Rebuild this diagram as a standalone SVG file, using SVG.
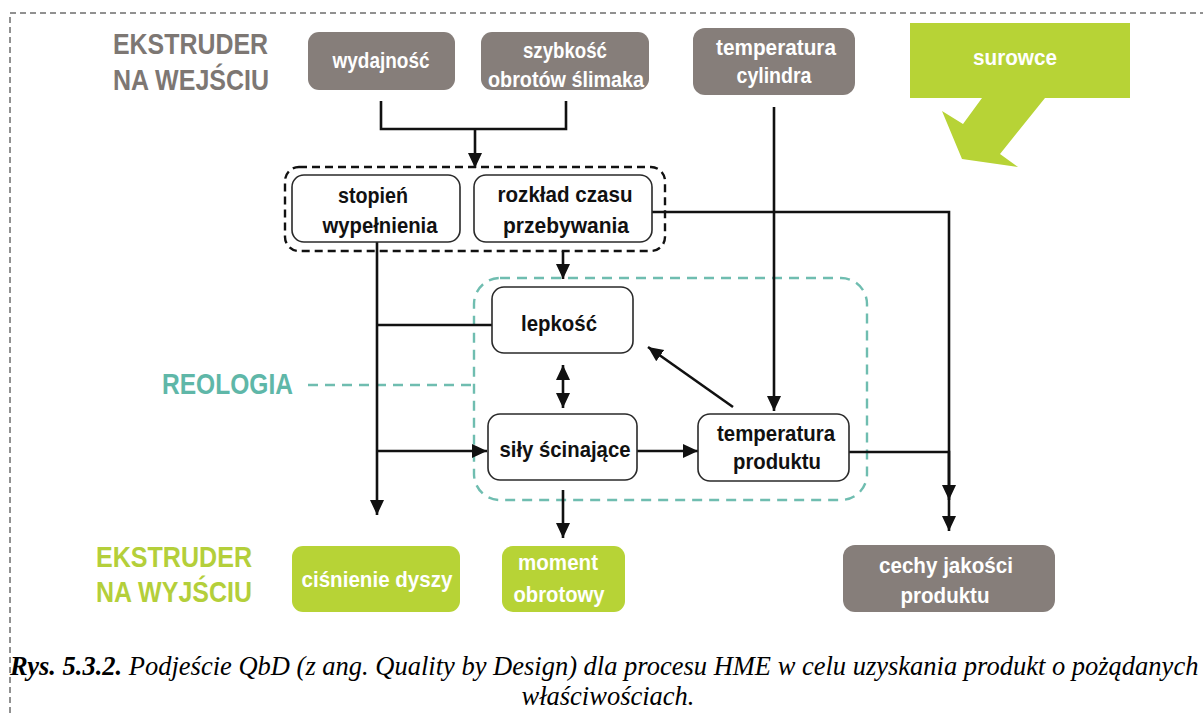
<svg xmlns="http://www.w3.org/2000/svg" width="1203" height="713" viewBox="0 0 1203 713">
  <style>
    .frame { fill: none; stroke: #222; stroke-width: 1; stroke-dasharray: 6 4; }
    .gray { fill: #867e7a; }
    .green { fill: #b7d336; }
    .white-box { fill: #fff; stroke: #2a2a2a; stroke-width: 1.6; }
    .lbl { font-family: "Liberation Sans", Arial, sans-serif; font-weight: bold; font-size: 22px; text-anchor: middle; }
    .on-dark { fill: #fff; }
    .on-light { fill: #111; }
    .head { font-family: "Liberation Sans", Arial, sans-serif; font-weight: bold; font-size: 30px; }
    .head-gray { fill: #7d7773; }
    .head-green { fill: #b4cf3a; }
    .head-teal { fill: #5fb7a8; }
    .wire { fill: none; stroke: #111; stroke-width: 2.6; }
    .cap { font-family: "Liberation Serif", "Times New Roman", serif; font-style: italic; font-size: 26.5px; fill: #000; }
  </style>
  <defs>
    <marker id="arr" markerUnits="userSpaceOnUse" markerWidth="16" markerHeight="16" refX="15" refY="7" orient="auto-start-reverse" viewBox="0 0 16 14">
      <path d="M0,0 L15,7 L0,14 z" fill="#111"/>
    </marker>
  </defs>

  <rect width="1203" height="713" fill="#fff"/>

  <!-- page frame -->
  <path class="frame" d="M10,713 V13 H1203"/>

  <!-- section headings -->
  <g id="head-input">
    <text class="head head-gray" x="113" y="54" textLength="155" lengthAdjust="spacingAndGlyphs">EKSTRUDER</text>
    <text class="head head-gray" x="113" y="90" textLength="156" lengthAdjust="spacingAndGlyphs">NA WEJŚCIU</text>
  </g>
  <g id="head-output">
    <text class="head head-green" x="96" y="567" textLength="156" lengthAdjust="spacingAndGlyphs">EKSTRUDER</text>
    <text class="head head-green" x="96" y="602" textLength="156" lengthAdjust="spacingAndGlyphs">NA WYJŚCIU</text>
  </g>
  <g id="head-rheology">
    <text class="head head-teal" x="162" y="394" textLength="131" lengthAdjust="spacingAndGlyphs">REOLOGIA</text>
  </g>

  <!-- group outlines -->
  <rect id="group-filling" x="285" y="167" width="380" height="84" rx="14" fill="none" stroke="#111" stroke-width="2.4" stroke-dasharray="8 5"/>
  <g id="group-rheology" fill="none" stroke="#6fbdb0" stroke-width="2.4" stroke-dasharray="10 7">
    <rect x="474" y="278" width="393" height="222" rx="26"/>
    <path d="M308,385 H474"/>
  </g>

  <!-- connectors -->
  <g id="connectors">
    <path class="wire" d="M381,101 V129 H566 V101"/>
    <path class="wire" d="M475,129 V168" marker-end="url(#arr)"/>
    <path class="wire" d="M774,107 V411" marker-end="url(#arr)"/>
    <path class="wire" d="M652,212 H949 V500" marker-end="url(#arr)"/>
    <path class="wire" d="M849,452 H949 V531" marker-end="url(#arr)"/>
    <path class="wire" d="M377,242 V515" marker-end="url(#arr)"/>
    <path class="wire" d="M377,325 H493"/>
    <path class="wire" d="M377,451 H487" marker-end="url(#arr)"/>
    <path class="wire" d="M563,251 V279" marker-end="url(#arr)"/>
    <path class="wire" d="M563,365 V408" marker-start="url(#arr)" marker-end="url(#arr)"/>
    <path class="wire" d="M637,451 H698" marker-end="url(#arr)"/>
    <path class="wire" d="M733,407 L648,347" marker-end="url(#arr)"/>
    <path class="wire" d="M563,490 V538" marker-end="url(#arr)"/>
  </g>

  <!-- input parameters -->
  <g id="wydajnosc">
    <rect class="gray" x="308" y="32" width="147" height="58" rx="11"/>
    <text class="lbl on-dark" x="381" y="68" textLength="97" lengthAdjust="spacingAndGlyphs">wydajność</text>
  </g>
  <g id="szybkosc">
    <rect class="gray" x="481" y="32" width="168" height="58" rx="11"/>
    <text class="lbl on-dark" x="565" y="58" textLength="84" lengthAdjust="spacingAndGlyphs">szybkość</text>
    <text class="lbl on-dark" x="566" y="87" textLength="156" lengthAdjust="spacingAndGlyphs">obrotów ślimaka</text>
  </g>
  <g id="temperatura-cylindra">
    <rect class="gray" x="693" y="28" width="162" height="67" rx="12"/>
    <text class="lbl on-dark" x="776" y="55" textLength="120" lengthAdjust="spacingAndGlyphs">temperatura</text>
    <text class="lbl on-dark" x="774" y="83" textLength="75" lengthAdjust="spacingAndGlyphs">cylindra</text>
  </g>
  <g id="surowce">
    <polygon class="green" points="910,23 1130,23 1130,98 1045,98 1000,154 1018,167 962,159 942,111 963,124 982,98 910,98"/>
    <text class="lbl on-dark" x="1015" y="65" textLength="84" lengthAdjust="spacingAndGlyphs">surowce</text>
  </g>

  <!-- process quantities -->
  <g id="stopien-wypelnienia">
    <rect class="white-box" x="292" y="175" width="168" height="67" rx="12"/>
    <text class="lbl on-light" x="373" y="203" textLength="70" lengthAdjust="spacingAndGlyphs">stopień</text>
    <text class="lbl on-light" x="380" y="233" textLength="115" lengthAdjust="spacingAndGlyphs">wypełnienia</text>
  </g>
  <g id="rozklad-czasu">
    <rect class="white-box" x="474" y="175" width="178" height="67" rx="12"/>
    <text class="lbl on-light" x="565" y="202" textLength="135" lengthAdjust="spacingAndGlyphs">rozkład czasu</text>
    <text class="lbl on-light" x="566" y="233" textLength="126" lengthAdjust="spacingAndGlyphs">przebywania</text>
  </g>
  <g id="lepkosc">
    <rect class="white-box" x="492" y="287" width="141" height="66" rx="12"/>
    <text class="lbl on-light" x="559" y="331" textLength="76" lengthAdjust="spacingAndGlyphs">lepkość</text>
  </g>
  <g id="sily-scinajace">
    <rect class="white-box" x="488" y="414" width="149" height="66" rx="12"/>
    <text class="lbl on-light" x="565" y="457" textLength="131" lengthAdjust="spacingAndGlyphs">siły ścinające</text>
  </g>
  <g id="temperatura-produktu">
    <rect class="white-box" x="698" y="414" width="151" height="67" rx="12"/>
    <text class="lbl on-light" x="776" y="441" textLength="118" lengthAdjust="spacingAndGlyphs">temperatura</text>
    <text class="lbl on-light" x="777" y="469" textLength="88" lengthAdjust="spacingAndGlyphs">produktu</text>
  </g>

  <!-- outputs -->
  <g id="cisnienie-dyszy">
    <rect class="green" x="292" y="546" width="168" height="66" rx="11"/>
    <text class="lbl on-dark" x="377" y="587" textLength="151" lengthAdjust="spacingAndGlyphs">ciśnienie dyszy</text>
  </g>
  <g id="moment-obrotowy">
    <rect class="green" x="502" y="546" width="123" height="66" rx="11"/>
    <text class="lbl on-dark" x="558" y="570" textLength="80" lengthAdjust="spacingAndGlyphs">moment</text>
    <text class="lbl on-dark" x="559" y="602" textLength="91" lengthAdjust="spacingAndGlyphs">obrotowy</text>
  </g>
  <g id="cechy-jakosci">
    <rect class="gray" x="843" y="545" width="212" height="67" rx="12"/>
    <text class="lbl on-dark" x="946" y="573" textLength="134" lengthAdjust="spacingAndGlyphs">cechy jakości</text>
    <text class="lbl on-dark" x="945" y="603" textLength="89" lengthAdjust="spacingAndGlyphs">produktu</text>
  </g>

  <!-- caption -->
  <text class="cap" x="10" y="675"><tspan font-weight="bold">Rys. 5.3.2.</tspan> Podjeście QbD (z ang. Quality by Design) dla procesu HME w celu uzyskania produkt o pożądanych</text>
  <text class="cap" x="608" y="705" text-anchor="middle">właściwościach.</text>
</svg>
